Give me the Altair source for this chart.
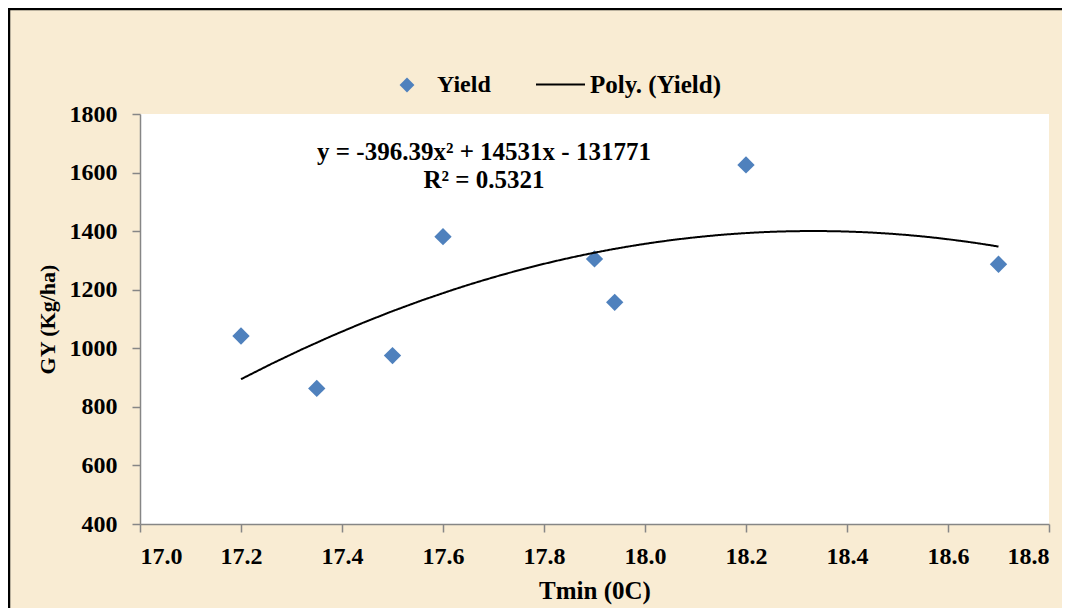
import altair as alt
import pandas as pd

# ---- data ----
tmin = [17.2, 17.35, 17.5, 17.6, 17.9, 17.94, 18.2, 18.7]
yield_kg = [1042, 863, 975, 1381, 1305, 1157, 1626, 1287]
x_ticks = [17.0, 17.2, 17.4, 17.6, 17.8, 18.0, 18.2, 18.4, 18.6, 18.8]
y_ticks = [400, 600, 800, 1000, 1200, 1400, 1600, 1800]
series_points = "Yield"
series_trend = "Poly. (Yield)"
trend_extent = [17.2, 18.7]
equation_lines = ["y = -396.39x\u00b2 + 14531x - 131771", "R\u00b2 = 0.5321"]

df = pd.DataFrame({"tmin": tmin, "gy": yield_kg, "series": [series_points] * len(tmin)})

FONT = "Liberation Serif"
BLUE = "#4F81BD"
AXIS_GREY = "#868686"

axis_style = dict(
    grid=False,
    domainColor=AXIS_GREY, domainWidth=1.5,
    tickColor=AXIS_GREY, tickWidth=1.5, tickSize=8,
    labelFont=FONT, labelFontWeight="bold", labelFontSize=24, labelColor="black",
    titleFont=FONT, titleFontWeight="bold", titleColor="black",
)

x_enc = alt.X(
    "tmin:Q",
    scale=alt.Scale(domain=[x_ticks[0], x_ticks[-1]], nice=False, zero=False),
    axis=alt.Axis(values=x_ticks, format=".1f", title="Tmin (0C)",
                  labelPadding=12, titlePadding=10, titleFontSize=25, **axis_style),
)
y_enc = alt.Y(
    "gy:Q",
    scale=alt.Scale(domain=[y_ticks[0], y_ticks[-1]], nice=False, zero=False),
    axis=alt.Axis(values=y_ticks, format="d", title="GY (Kg/ha)",
                  labelPadding=15, titlePadding=10, titleFontSize=22, **axis_style),
)

base = alt.Chart(df)

points = base.mark_point(shape="diamond", filled=True, size=300, opacity=1).encode(
    x=x_enc,
    y=y_enc,
    color=alt.Color(
        "series:N",
        scale=alt.Scale(domain=[series_points], range=[BLUE]),
        legend=alt.Legend(
            title=None, orient="none", legendX=255, legendY=-41,
            symbolType="diamond", symbolSize=220, labelOffset=18,
            labelFontSize=24, labelFont=FONT, labelFontWeight="bold", labelColor="black",
        ),
    ),
)

trend = (
    base.transform_regression("tmin", "gy", method="poly", order=2, extent=trend_extent)
    .transform_calculate(series2="'" + series_trend + "'")
    .mark_line(color="black", strokeWidth=2)
    .encode(
        x="tmin:Q",
        y="gy:Q",
        strokeDash=alt.StrokeDash(
            "series2:N",
            scale=alt.Scale(domain=[series_trend], range=[[1, 0]]),
            legend=alt.Legend(
                title=None, orient="none", legendX=395, legendY=-55,
                symbolType="stroke", symbolSize=2400, symbolStrokeWidth=2,
                symbolStrokeColor="black", labelOffset=4,
                labelFontSize=25, labelFont=FONT, labelFontWeight="bold", labelColor="black",
            ),
        ),
    )
)

equation = alt.Chart(alt.Data(values=[{}])).mark_text(
    font=FONT, fontSize=25, fontWeight="bold", color="black",
    align="center", baseline="alphabetic", lineHeight=28,
).encode(x=alt.value(344), y=alt.value(46), text=alt.value(equation_lines))

border_left = alt.Chart(alt.Data(values=[{}])).mark_rule(color="black", strokeWidth=2.5).encode(
    x=alt.value(-131), y=alt.value(-106), y2=alt.value(600)
)
border_top = alt.Chart(alt.Data(values=[{}])).mark_rule(color="black", strokeWidth=2.5).encode(
    y=alt.value(-105), x=alt.value(-132), x2=alt.value(1000)
)

chart = (
    alt.layer(points, trend, equation, border_left, border_top)
    .resolve_legend(color="independent", strokeDash="independent")
    .properties(
        width=909, height=410,
        autosize=alt.AutoSizeParams(type="none"),
        padding={"left": 132, "top": 106, "right": 13, "bottom": 84},
        background="#F9ECD3",
    )
    .configure_view(fill="white", stroke=None)
    .configure_axis(**axis_style)
    .configure_legend(padding=0)
)

chart.save("out.html", embed_options={"renderer": "svg", "actions": False})
